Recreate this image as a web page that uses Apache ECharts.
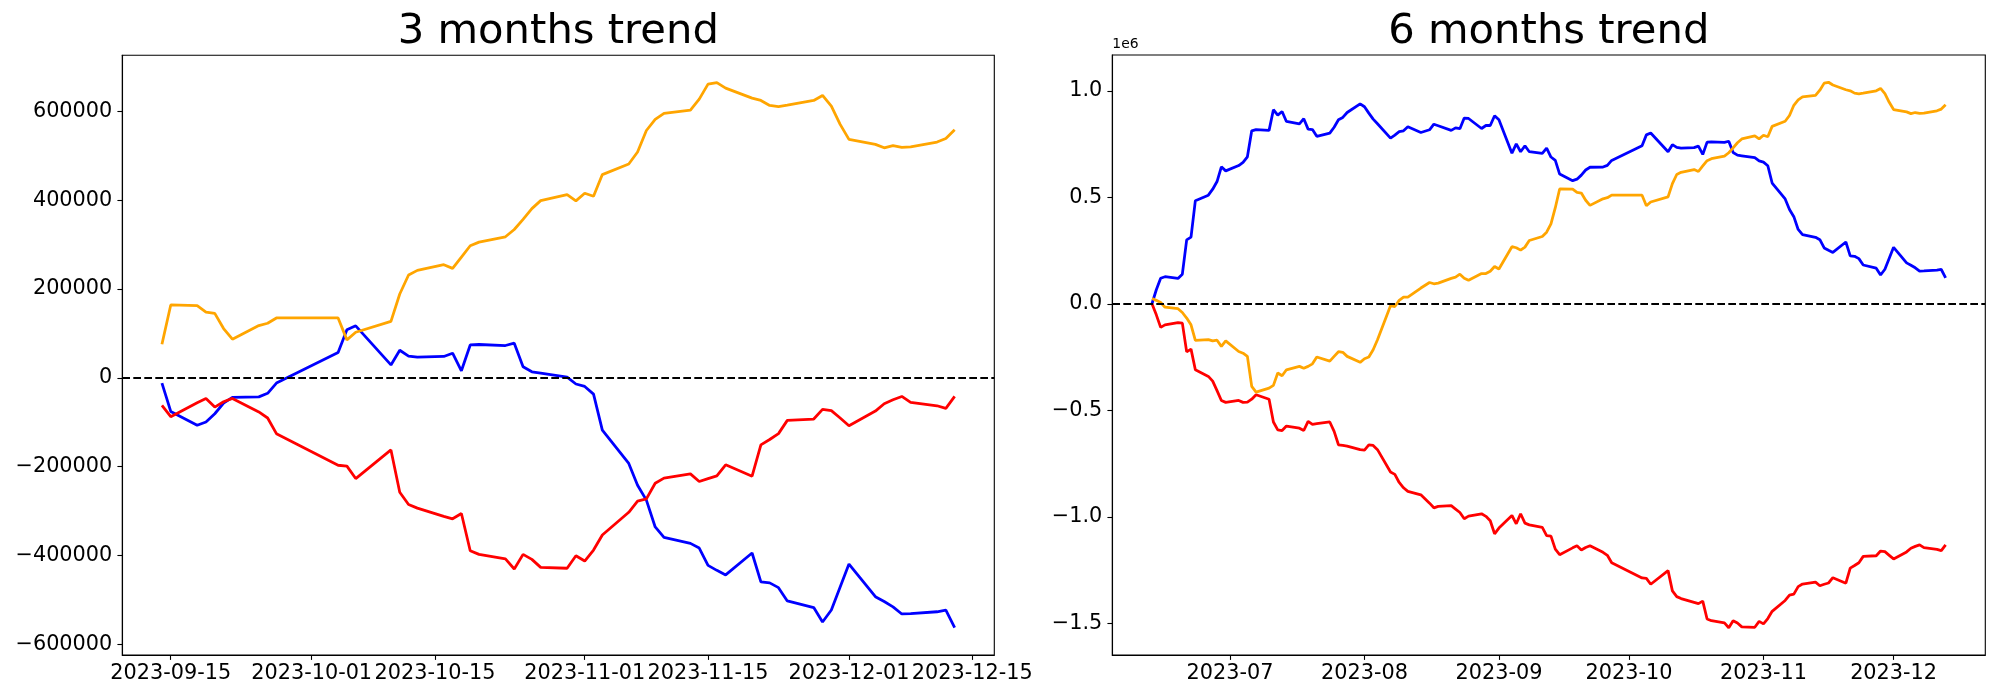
<!DOCTYPE html>
<html>
<head>
<meta charset="utf-8">
<script src="https://cdn.jsdelivr.net/npm/echarts@6/dist/echarts.min.js"></script>
<style>html,body{margin:0;padding:0;background:#fff}#c{width:2000px;height:700px}</style>
</head>
<body>
<div id="c"></div>
<script>
// ---------- 3 months ----------
const dates3m = ['2023-09-14','2023-09-15','2023-09-18','2023-09-19','2023-09-20','2023-09-21','2023-09-22','2023-09-25','2023-09-26','2023-09-27',
'2023-10-04','2023-10-05','2023-10-06','2023-10-10','2023-10-11','2023-10-12','2023-10-13','2023-10-16','2023-10-17','2023-10-18','2023-10-19','2023-10-20','2023-10-23','2023-10-24','2023-10-25','2023-10-26','2023-10-27','2023-10-30','2023-10-31',
'2023-11-01','2023-11-02','2023-11-03','2023-11-06','2023-11-07','2023-11-08','2023-11-09','2023-11-10','2023-11-13','2023-11-14','2023-11-15','2023-11-16','2023-11-17','2023-11-20','2023-11-21','2023-11-22','2023-11-23','2023-11-24','2023-11-27','2023-11-28','2023-11-29','2023-11-30',
'2023-12-01','2023-12-04','2023-12-05','2023-12-06','2023-12-07','2023-12-08','2023-12-11','2023-12-12','2023-12-13'];
const orange3m = [75700,164000,162500,148000,145000,111000,87000,117600,122800,134800,
134800,85400,102600,127000,188800,231500,242000,254700,246400,272000,297400,305600,317600,334000,357000,381000,399000,412700,398500,
415700,409000,457700,481600,508600,557000,582000,595500,603000,627700,661400,665000,652400,630000,624700,613500,611000,614000,624700,636000,612000,570800,
537000,525800,518000,522800,519000,520000,531000,539000,558800];
const blue3m = [-12000,-75700,-107000,-99600,-81000,-57000,-44000,-43000,-35000,-12000,
57000,108000,117000,29000,62000,49000,46400,48000,55400,15700,74000,75000,72700,78000,24700,13500,10500,1500,-14000,
-19500,-36700,-118000,-193000,-242000,-275600,-336000,-359600,-373000,-383500,-422500,-433700,-444000,-394700,-459900,-462000,-472700,-502700,-517600,-550000,-523000,-471000,
-419500,-493000,-504000,-516000,-532000,-531000,-527000,-523500,-563000];
const red3m = [-62000,-87600,-56000,-46400,-66000,-54000,-46400,-77000,-90600,-125800,
-197000,-199000,-227000,-162500,-257700,-285400,-293600,-312000,-317600,-305600,-389500,-397800,-408000,-430700,-397800,-409000,-427000,-429000,-400800,
-412700,-388000,-354000,-303000,-278000,-272700,-237500,-226000,-216500,-233700,-227000,-221000,-196000,-221700,-151000,-139000,-125800,-95900,-92900,-71000,-74000,-90600,
-107900,-75000,-58400,-49400,-42000,-55400,-63000,-69000,-42000];
const xTicks3m = ['2023-09-15','2023-10-01','2023-10-15','2023-11-01','2023-11-15','2023-12-01','2023-12-15'];
const yTicks3m = [-600000,-400000,-200000,0,200000,400000,600000];

// ---------- 6 months ----------
const dates6m = ['2023-06-13','2023-06-14','2023-06-15','2023-06-16','2023-06-19','2023-06-20','2023-06-21','2023-06-22','2023-06-23','2023-06-26','2023-06-27','2023-06-28','2023-06-29','2023-06-30',
'2023-07-03','2023-07-04','2023-07-05','2023-07-06','2023-07-07','2023-07-10','2023-07-11','2023-07-12','2023-07-13','2023-07-14','2023-07-17','2023-07-18','2023-07-19','2023-07-20','2023-07-21','2023-07-24','2023-07-25','2023-07-26','2023-07-27','2023-07-28','2023-07-31',
'2023-08-01','2023-08-02','2023-08-03','2023-08-04','2023-08-07','2023-08-08','2023-08-09','2023-08-10','2023-08-11','2023-08-14','2023-08-16','2023-08-17','2023-08-18','2023-08-21','2023-08-22','2023-08-23','2023-08-24','2023-08-25','2023-08-28','2023-08-29','2023-08-30','2023-08-31',
'2023-09-01','2023-09-04','2023-09-05','2023-09-06','2023-09-07','2023-09-08','2023-09-11','2023-09-12','2023-09-13','2023-09-14','2023-09-15','2023-09-18','2023-09-19','2023-09-20','2023-09-21','2023-09-22','2023-09-25','2023-09-26','2023-09-27',
'2023-10-04','2023-10-05','2023-10-06','2023-10-10','2023-10-11','2023-10-12','2023-10-13','2023-10-16','2023-10-17','2023-10-18','2023-10-19','2023-10-20','2023-10-23','2023-10-24','2023-10-25','2023-10-26','2023-10-27','2023-10-30','2023-10-31',
'2023-11-01','2023-11-02','2023-11-03','2023-11-06','2023-11-07','2023-11-08','2023-11-09','2023-11-10','2023-11-13','2023-11-14','2023-11-15','2023-11-16','2023-11-17','2023-11-20','2023-11-21','2023-11-22','2023-11-23','2023-11-24','2023-11-27','2023-11-28','2023-11-29','2023-11-30',
'2023-12-01','2023-12-04','2023-12-05','2023-12-06','2023-12-07','2023-12-08','2023-12-11','2023-12-12','2023-12-13'];
const blue6m = [0,66000,120000,127000,119000,139000,300000,313000,484000,510000,538000,574000,643000,624000,
649000,664000,690000,812000,818000,814000,911000,886000,903000,856000,845000,869000,820000,818000,786000,801000,829000,864000,875000,898000,939000,
925000,895000,867000,845000,778000,792000,808000,812000,831000,804000,817000,843000,836000,814000,826000,822000,872000,870000,823000,837000,837000,883000,
864000,707000,751000,714000,742000,714000,706000,731000,689000,673000,609000,578000,585000,604000,628000,641000,642000,650000,673000,
742000,793000,802000,714000,747000,734000,731000,733000,740000,701000,759000,760000,758000,763000,710000,698000,695000,686000,671000,
665000,648000,567000,492000,443000,409000,349000,325000,312000,301000,262000,251000,241000,290000,225000,223000,212000,182000,167000,135000,162000,214000,
265000,192000,181000,169000,153000,154000,158000,161000,122000];
const orange6m = [25000,16000,6000,-16000,-23000,-41000,-67000,-99000,-172000,-168000,-174000,-171000,-200000,-174000,
-224000,-232000,-247000,-388000,-415000,-396000,-383000,-325000,-338000,-310000,-294000,-303000,-294000,-282000,-250000,-269000,-247000,-225000,-228000,-247000,-275000,
-258000,-250000,-216000,-169000,-9000,-13000,16000,31000,31000,74000,100000,94000,97000,119000,125000,139000,120000,110000,142000,142000,153000,175000,
163000,268000,263000,252000,266000,297000,316000,336000,375000,451000,539000,538000,523000,520000,486000,462000,493000,498000,510000,
510000,460000,478000,502000,564000,607000,617000,630000,621000,647000,672000,681000,693000,709000,732000,756000,774000,788000,774000,
791000,784000,833000,857000,884000,932000,957000,971000,978000,1003000,1036000,1040000,1027000,1005000,1000000,989000,986000,989000,1000000,1011000,987000,946000,
912000,901000,893000,898000,894000,895000,906000,914000,934000];
const red6m = [0,-52000,-111000,-99000,-88000,-91000,-226000,-213000,-310000,-341000,-363000,-408000,-454000,-463000,
-454000,-463000,-462000,-448000,-427000,-448000,-555000,-592000,-595000,-574000,-584000,-595000,-552000,-566000,-563000,-555000,-599000,-662000,-665000,-668000,-685000,
-687000,-662000,-665000,-685000,-790000,-801000,-839000,-864000,-881000,-897000,-936000,-958000,-951000,-948000,-964000,-980000,-1009000,-997000,-986000,-998000,-1019000,-1080000,
-1053000,-994000,-1033000,-986000,-1030000,-1038000,-1050000,-1089000,-1091000,-1152000,-1178000,-1146000,-1136000,-1156000,-1144000,-1136000,-1167000,-1181000,-1216000,
-1287000,-1289000,-1317000,-1253000,-1348000,-1375000,-1384000,-1402000,-1408000,-1396000,-1480000,-1488000,-1498000,-1521000,-1488000,-1499000,-1517000,-1519000,-1491000,
-1503000,-1478000,-1444000,-1393000,-1368000,-1363000,-1328000,-1316000,-1307000,-1324000,-1317000,-1311000,-1286000,-1312000,-1241000,-1229000,-1216000,-1186000,-1183000,-1161000,-1164000,-1181000,
-1198000,-1165000,-1148000,-1139000,-1132000,-1145000,-1153000,-1159000,-1132000];
const xTicks6m = ['2023-07-01','2023-08-01','2023-09-01','2023-10-01','2023-11-01','2023-12-01'];
const yTicks6m = [-1500000,-1000000,-500000,0,500000,1000000];

// ---------- build ----------
const FONT = 'DejaVu Sans';
const ms = d => Date.parse(d + 'T00:00:00Z');
const pairs = (ds, vs) => ds.map((d, i) => [ms(d), vs[i]]);
const padRange = arr => { const mn = Math.min(...arr), mx = Math.max(...arr), r = mx - mn; return [mn - 0.05 * r, mx + 0.05 * r]; };
const minus = v => (v < 0 ? '\u2212' : '');

const x3 = padRange(dates3m.map(ms));
const x6 = padRange(dates6m.map(ms));
const y3 = padRange([].concat(orange3m, blue3m, red3m));
const y6 = padRange([].concat(orange6m, blue6m, red6m));

function xAxisCfg(idx, range, ticks, fmt) {
  const tv = ticks.map(ms);
  return {
    type: 'value', gridIndex: idx, min: range[0], max: range[1],
    axisLine: { show: true, onZero: false, lineStyle: { color: '#000', width: 1.1 } },
    axisTick: { show: true, inside: false, length: 4.9, lineStyle: { color: '#000', width: 1.1 }, customValues: tv },
    axisLabel: { show: true, customValues: tv, margin: 8, color: '#000', fontSize: 20.8, fontFamily: FONT,
      formatter: v => new Date(v).toISOString().slice(0, fmt) },
    splitLine: { show: false }
  };
}
function yAxisCfg(idx, range, ticks, fmt, extra) {
  return Object.assign({
    type: 'value', gridIndex: idx, min: range[0], max: range[1],
    axisLine: { show: true, onZero: false, lineStyle: { color: '#000', width: 1.1 } },
    axisTick: { show: true, inside: false, length: 4.9, lineStyle: { color: '#000', width: 1.1 }, customValues: ticks },
    axisLabel: { show: true, customValues: ticks, margin: 10, color: '#000', fontSize: 20.8, fontFamily: FONT, formatter: fmt },
    splitLine: { show: false }
  }, extra || {});
}
function lineSeries(name, xi, data, color, extra) {
  return Object.assign({
    name, type: 'line', xAxisIndex: xi, yAxisIndex: xi, data, showSymbol: false, symbol: 'none',
    lineStyle: { color, width: 2.78 }, itemStyle: { color }, animation: false, silent: true
  }, extra || {});
}
const zeroLine = { silent: true, symbol: ['none', 'none'], label: { show: false }, animation: false,
  lineStyle: { type: [7.7, 3.3], color: '#000', width: 2.08 }, data: [{ yAxis: 0 }] };

const chart = echarts.init(document.getElementById('c'), null, { renderer: 'canvas' });
chart.setOption({
  animation: false,
  backgroundColor: '#fff',
  title: [
    { text: '3 months trend', left: 558.3, top: 11, textAlign: 'center', padding: 0,
      textStyle: { fontFamily: FONT, fontSize: 41.7, fontWeight: 'normal', color: '#000' } },
    { text: '6 months trend', left: 1548.8, top: 11, textAlign: 'center', padding: 0,
      textStyle: { fontFamily: FONT, fontSize: 41.7, fontWeight: 'normal', color: '#000' } }
  ],
  grid: [
    { left: 122.3, top: 55.3, width: 872, height: 599.7, show: true, borderColor: '#000', borderWidth: 1.1, containLabel: false },
    { left: 1112.3, top: 55, width: 873, height: 600, show: true, borderColor: '#000', borderWidth: 1.1, containLabel: false }
  ],
  xAxis: [ xAxisCfg(0, x3, xTicks3m, 10), xAxisCfg(1, x6, xTicks6m, 7) ],
  yAxis: [
    yAxisCfg(0, y3, yTicks3m, v => minus(v) + Math.abs(Math.round(v))),
    yAxisCfg(1, y6, yTicks6m, v => minus(v) + Math.abs(v / 1e6).toFixed(1),
      { name: '1e6', nameLocation: 'end', nameGap: 4,
        nameTextStyle: { fontFamily: FONT, fontSize: 13.9, color: '#000', align: 'left', verticalAlign: 'bottom' } })
  ],
  series: [
    lineSeries('blue 3m', 0, pairs(dates3m, blue3m), '#0000ff'),
    lineSeries('red 3m', 0, pairs(dates3m, red3m), '#ff0000'),
    lineSeries('orange 3m', 0, pairs(dates3m, orange3m), '#ffa500', { markLine: zeroLine }),
    lineSeries('blue 6m', 1, pairs(dates6m, blue6m), '#0000ff'),
    lineSeries('red 6m', 1, pairs(dates6m, red6m), '#ff0000'),
    lineSeries('orange 6m', 1, pairs(dates6m, orange6m), '#ffa500', { markLine: zeroLine })
  ]
});
</script>
</body>
</html>
